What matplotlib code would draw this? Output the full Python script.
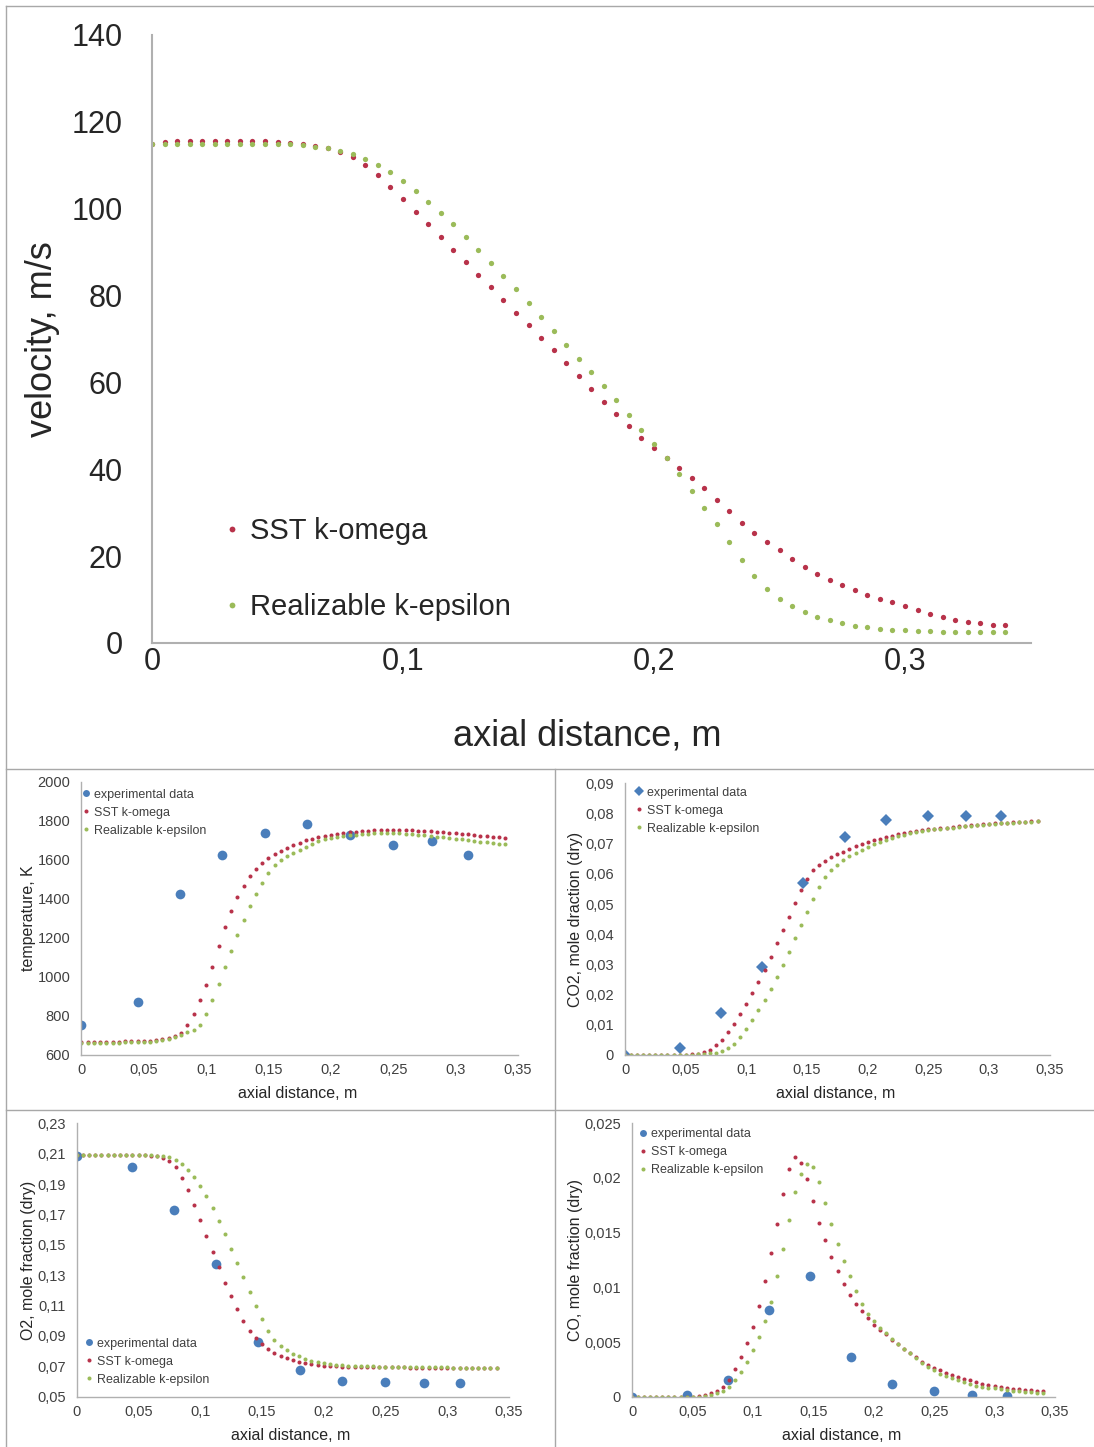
import matplotlib
matplotlib.use('Agg')
import matplotlib.pyplot as plt
from matplotlib.lines import Line2D
from matplotlib.ticker import FuncFormatter
import numpy as np

plt.rcParams['font.family'] = ['Liberation Sans', 'DejaVu Sans']

###########################################
# Data
###########################################

# simulation sampling points along the axis, m
x_sim = np.round(np.arange(69) * 0.005, 3)   # 0 ... 0.34

# axial velocity, m/s
vel_sst = [115.0, 115.3, 115.5, 115.6, 115.7, 115.7, 115.7, 115.7, 115.6, 115.5,
           115.3, 115.1, 114.9, 114.5, 114.0, 113.0, 111.8, 110.0, 107.8, 105.0,
           102.2, 99.3, 96.4, 93.5, 90.6, 87.7, 84.8, 81.9, 79.0, 76.1,
           73.2, 70.3, 67.4, 64.5, 61.5, 58.5, 55.6, 52.7, 49.9, 47.2,
           44.8, 42.5, 40.3, 38.0, 35.6, 33.0, 30.3, 27.6, 25.3, 23.3,
           21.3, 19.3, 17.6, 16.0, 14.6, 13.3, 12.2, 11.1, 10.2, 9.4,
           8.6, 7.6, 6.7, 6.0, 5.4, 4.9, 4.5, 4.2, 4.1]
vel_rke = [114.8, 114.9, 115.0, 115.0, 115.0, 115.0, 115.0, 115.0, 115.0, 115.0,
           114.9, 114.8, 114.6, 114.3, 113.9, 113.3, 112.5, 111.4, 110.1, 108.5,
           106.4, 104.0, 101.6, 99.1, 96.4, 93.6, 90.6, 87.6, 84.6, 81.4,
           78.2, 75.0, 71.8, 68.6, 65.5, 62.4, 59.2, 55.9, 52.5, 49.1,
           45.8, 42.5, 38.8, 35.0, 31.2, 27.3, 23.3, 19.2, 15.5, 12.5,
           10.2, 8.5, 7.2, 6.1, 5.2, 4.5, 4.0, 3.6, 3.3, 3.0,
           2.9, 2.8, 2.7, 2.6, 2.6, 2.6, 2.6, 2.6, 2.6]

# temperature, K
temp_sst = [668, 668, 668, 668, 668, 669, 669, 670, 670, 671,
            672, 674, 677, 681, 688, 698, 715, 755, 812, 880,
            960, 1050, 1160, 1255, 1340, 1410, 1465, 1515, 1555, 1585,
            1610, 1630, 1647, 1661, 1675, 1688, 1700, 1709, 1717, 1723,
            1728, 1733, 1737, 1741, 1744, 1747, 1749, 1751, 1752, 1753,
            1753, 1753, 1752, 1751, 1750, 1748, 1746, 1744, 1742, 1739,
            1736, 1733, 1730, 1727, 1724, 1721, 1718, 1715, 1713]
temp_rke = [663, 663, 663, 663, 664, 664, 664, 665, 665, 665,
            666, 668, 671, 676, 683, 692, 703, 718, 728, 752,
            810, 880, 965, 1050, 1135, 1215, 1290, 1365, 1425, 1480,
            1530, 1573, 1600, 1620, 1636, 1652, 1667, 1683, 1695, 1704,
            1711, 1717, 1722, 1726, 1729, 1732, 1734, 1735, 1736, 1736,
            1736, 1735, 1733, 1731, 1728, 1725, 1722, 1718, 1715, 1712,
            1708, 1704, 1700, 1696, 1692, 1689, 1686, 1683, 1681]

# CO2 mole fraction (dry)
co2_sst = [0, 0, 0, 0, 0, 0, 0, 0, 0, 0.0001,
           0.0001, 0.0002, 0.0004, 0.0009, 0.0018, 0.0032, 0.0050, 0.0075, 0.0104, 0.0136,
           0.0170, 0.0206, 0.0243, 0.0283, 0.0325, 0.0370, 0.0414, 0.0458, 0.0503, 0.0545,
           0.0583, 0.0613, 0.0630, 0.0644, 0.0655, 0.0665, 0.0674, 0.0683, 0.0691, 0.0698,
           0.0705, 0.0711, 0.0717, 0.0722, 0.0727, 0.0731, 0.0735, 0.0738, 0.0741, 0.0744,
           0.0747, 0.0749, 0.0751, 0.0753, 0.0755, 0.0757, 0.0759, 0.0761, 0.0762, 0.0764,
           0.0765, 0.0767, 0.0768, 0.0769, 0.0771, 0.0772, 0.0773, 0.0774, 0.0775]
co2_rke = [0, 0, 0, 0, 0, 0, 0, 0, 0, 0,
           0, 0.0001, 0.0002, 0.0003, 0.0005, 0.0008, 0.0012, 0.0022, 0.0038, 0.0058,
           0.0085, 0.0115, 0.0148, 0.0182, 0.0219, 0.0257, 0.0298, 0.0341, 0.0386, 0.0430,
           0.0474, 0.0517, 0.0556, 0.0588, 0.0612, 0.0630, 0.0645, 0.0658, 0.0670, 0.0680,
           0.0689, 0.0698, 0.0706, 0.0713, 0.0719, 0.0725, 0.0730, 0.0734, 0.0738, 0.0741,
           0.0744, 0.0747, 0.0749, 0.0751, 0.0753, 0.0755, 0.0757, 0.0759, 0.0761, 0.0763,
           0.0764, 0.0766, 0.0767, 0.0768, 0.0770, 0.0771, 0.0772, 0.0773, 0.0774]

# O2 mole fraction (dry)
o2_sst = [0.209, 0.209, 0.209, 0.209, 0.209, 0.209, 0.209, 0.209, 0.209, 0.209,
          0.209, 0.2089, 0.2088, 0.2083, 0.2072, 0.2050, 0.2010, 0.1940, 0.1860, 0.1765,
          0.1665, 0.1560, 0.1455, 0.1355, 0.1250, 0.1160, 0.1075, 0.1000, 0.0935, 0.0885,
          0.0845, 0.0815, 0.0790, 0.0770, 0.0753, 0.0740, 0.0729, 0.0720, 0.0714, 0.0709,
          0.0705, 0.0702, 0.0700, 0.0698, 0.0697, 0.0696, 0.0695, 0.0695, 0.0694, 0.0694,
          0.0694, 0.0693, 0.0693, 0.0693, 0.0692, 0.0692, 0.0692, 0.0692, 0.0691, 0.0691,
          0.0691, 0.0691, 0.0690, 0.0690, 0.0690, 0.0690, 0.0690, 0.0690, 0.0690]
o2_rke = [0.209, 0.209, 0.209, 0.209, 0.209, 0.209, 0.209, 0.209, 0.209, 0.209,
          0.209, 0.209, 0.2089, 0.2087, 0.2085, 0.2075, 0.2058, 0.2030, 0.1995, 0.1945,
          0.1885, 0.1820, 0.1740, 0.1660, 0.1570, 0.1475, 0.1380, 0.1285, 0.1190, 0.1095,
          0.1010, 0.0935, 0.0875, 0.0835, 0.0805, 0.0782, 0.0765, 0.0750, 0.0738, 0.0728,
          0.0720, 0.0714, 0.0710, 0.0707, 0.0705, 0.0703, 0.0701, 0.0700, 0.0699, 0.0698,
          0.0697, 0.0696, 0.0696, 0.0695, 0.0695, 0.0694, 0.0694, 0.0694, 0.0693, 0.0693,
          0.0693, 0.0692, 0.0692, 0.0692, 0.0692, 0.0692, 0.0692, 0.0692, 0.0692]

# CO mole fraction (dry)
co_sst = [0, 0, 0, 0, 0, 0, 0, 0, 0, 0,
          0, 0.0001, 0.0002, 0.0003, 0.0005, 0.0009, 0.0015, 0.0025, 0.0036, 0.0049,
          0.0064, 0.0083, 0.0106, 0.0131, 0.0158, 0.0185, 0.0208, 0.0219, 0.0214, 0.0199,
          0.0179, 0.0159, 0.0143, 0.0128, 0.0115, 0.0103, 0.0093, 0.0085, 0.0078, 0.0072,
          0.0066, 0.0061, 0.0057, 0.0052, 0.0048, 0.0044, 0.0040, 0.0036, 0.0032, 0.0029,
          0.0026, 0.0024, 0.0022, 0.0020, 0.0018, 0.0016, 0.0015, 0.0013, 0.0012, 0.0011,
          0.0010, 0.0009, 0.0008, 0.0007, 0.0007, 0.0006, 0.0006, 0.0005, 0.0005]
co_rke = [0, 0, 0, 0, 0, 0, 0, 0, 0, 0,
          0, 0, 0.0001, 0.0002, 0.0003, 0.0005, 0.0009, 0.0015, 0.0023, 0.0032,
          0.0043, 0.0055, 0.0069, 0.0087, 0.0110, 0.0135, 0.0162, 0.0187, 0.0204, 0.0213,
          0.0210, 0.0196, 0.0177, 0.0158, 0.0140, 0.0124, 0.0110, 0.0097, 0.0085, 0.0076,
          0.0069, 0.0063, 0.0058, 0.0053, 0.0048, 0.0044, 0.0040, 0.0035, 0.0031, 0.0027,
          0.0024, 0.0021, 0.0019, 0.0017, 0.0015, 0.0013, 0.0012, 0.0010, 0.0009, 0.0008,
          0.0008, 0.0007, 0.0006, 0.0005, 0.0005, 0.0004, 0.0004, 0.0003, 0.0003]

# experimental data
x_exp = [0, 0.045, 0.079, 0.113, 0.147, 0.181, 0.215, 0.25, 0.281, 0.31]
temp_exp = [754, 870, 1425, 1624, 1735, 1781, 1727, 1676, 1696, 1624]
co2_exp = [0, 0.0022, 0.0138, 0.029, 0.0569, 0.0721, 0.078, 0.0792, 0.0792, 0.0792]
o2_exp = [0.2085, 0.2015, 0.1727, 0.1371, 0.0858, 0.0676, 0.0605, 0.0594, 0.0588, 0.0588]
co_exp = [0, 0.0002, 0.0015, 0.0079, 0.011, 0.0036, 0.0012, 0.0005, 0.0002, 0.0001]

###########################################
# Styling
###########################################

c_exp = '#4a7ebb'
c_sst = '#b8324a'
c_rke = '#9bbb59'
c_axis = '#b0b0b0'
c_text = '#404040'
W, H = 1094, 1447


def comma(v, pos):
    return f"{round(v, 4):g}".replace('.', ',')


def px_axes(l, r, b, t):
    """axes rectangle from pixel edges of the reference"""
    return [l / W, 1 - b / H, (r - l) / W, (b - t) / H]


def excel_axes(ax, tick_size, tick_color, pad_x, pad_y, lw):
    for s in ['top', 'right']:
        ax.spines[s].set_visible(False)
    for s in ['left', 'bottom']:
        ax.spines[s].set_color(c_axis)
        ax.spines[s].set_linewidth(lw)
    ax.tick_params(length=0, labelsize=tick_size, labelcolor=tick_color)
    ax.tick_params(axis='x', pad=pad_x)
    ax.tick_params(axis='y', pad=pad_y)
    ax.xaxis.set_major_formatter(FuncFormatter(comma))
    ax.yaxis.set_major_formatter(FuncFormatter(comma))


fig = plt.figure(figsize=(W / 100, H / 100), dpi=100)

# panel borders
for xs, ys in [([6, 6], [6, H]), ([6, W], [6, 6]), ([6, W], [769, 769]),
               ([555, 555], [769, H]), ([6, W], [1110, 1110])]:
    fig.add_artist(Line2D([x / W for x in xs], [1 - y / H for y in ys],
                          color='#a8a8a8', lw=1))

###########################################
# 1. Velocity (large panel)
###########################################

ax = fig.add_axes(px_axes(152, 1030.5, 643, 35))
ax.plot(x_sim, vel_sst, 'o', ms=3.8, color=c_sst, mew=0, label='SST k-omega')
ax.plot(x_sim, vel_rke, 'o', ms=3.8, color=c_rke, mew=0, label='Realizable k-epsilon')
ax.set_xlim(0, 0.35)
ax.set_ylim(0, 140)
ax.set_xticks([0, 0.1, 0.2, 0.3])
ax.set_yticks(np.arange(0, 141, 20))
excel_axes(ax, 22, '#262626', 3, 21, 1.5)
ax.set_xlabel('axial distance, m', fontsize=26, color='#262626')
ax.set_ylabel('velocity, m/s', fontsize=26, color='#262626')
ax.xaxis.set_label_coords(0.496, -0.125)
ax.yaxis.set_label_coords(-0.105, 0.5)
ax.legend(loc='upper left', bbox_to_anchor=(0.0816, 0.207), frameon=False,
          fontsize=21, labelcolor='#262626', handlelength=0.6, handletextpad=0.3,
          labelspacing=1.65, borderpad=0, borderaxespad=0, markerscale=1.1)

###########################################
# 2. Small panels
###########################################


def small_panel(rect, y_sst, y_rke, y_exp, yticks, ylabel, exp_marker, leg_anchor):
    ax = fig.add_axes(rect)
    ax.plot(x_exp, y_exp, exp_marker, ms=7 if exp_marker == 'o' else 6, color=c_exp,
            mew=0, label='experimental data')
    ax.plot(x_sim, y_sst, 'o', ms=2.9, color=c_sst, mew=0, label='SST k-omega')
    ax.plot(x_sim, y_rke, 'o', ms=2.9, color=c_rke, mew=0, label='Realizable k-epsilon')
    ax.set_xlim(0, 0.35)
    ax.set_ylim(yticks[0], yticks[-1])
    ax.set_xticks(np.arange(0, 0.351, 0.05))
    ax.set_yticks(yticks)
    excel_axes(ax, 10.5, c_text, 6, 8, 1)
    ax.set_xlabel('axial distance, m', fontsize=11.5, color='#262626')
    ax.set_ylabel(ylabel, fontsize=11.5, color='#262626')
    ax.xaxis.set_label_coords(0.496, -0.115)
    leg = ax.legend(loc='upper left', bbox_to_anchor=leg_anchor, frameon=False,
                    fontsize=9, labelcolor=c_text, handlelength=0.6, handletextpad=0.3,
                    labelspacing=0.48, borderpad=0, borderaxespad=0)
    leg.legend_handles[0].set_markersize(5)
    return ax


ax1 = small_panel(px_axes(81.4, 517.9, 1055, 781.7), temp_sst, temp_rke, temp_exp,
                  np.arange(600, 2001, 200), 'temperature, K', 'o', (0.002, 0.975))
ax1.yaxis.set_label_coords(-0.104, 0.5)

ax2 = small_panel(px_axes(625, 1049.7, 1055, 783.3), co2_sst, co2_rke, co2_exp,
                  np.round(np.arange(0, 0.0901, 0.01), 3), 'CO2, mole draction (dry)',
                  'D', (0.025, 0.988))
ax2.yaxis.set_label_coords(-0.099, 0.5)

ax3 = small_panel(px_axes(76.8, 508.9, 1396.7, 1123.3), o2_sst, o2_rke, o2_exp,
                  np.round(np.arange(0.05, 0.2301, 0.02), 3), 'O2, mole fraction (dry)',
                  'o', (0.02, 0.2165))
ax3.yaxis.set_label_coords(-0.094, 0.5)

ax4 = small_panel(px_axes(632.2, 1054.9, 1396.7, 1123.3), co_sst, co_rke, co_exp,
                  np.round(np.arange(0, 0.02501, 0.005), 3), 'CO, mole fraction (dry)',
                  'o', (0.017, 0.981))
ax4.yaxis.set_label_coords(-0.116, 0.5)

plt.savefig('out.png', dpi=100, facecolor='white')
plt.close()
